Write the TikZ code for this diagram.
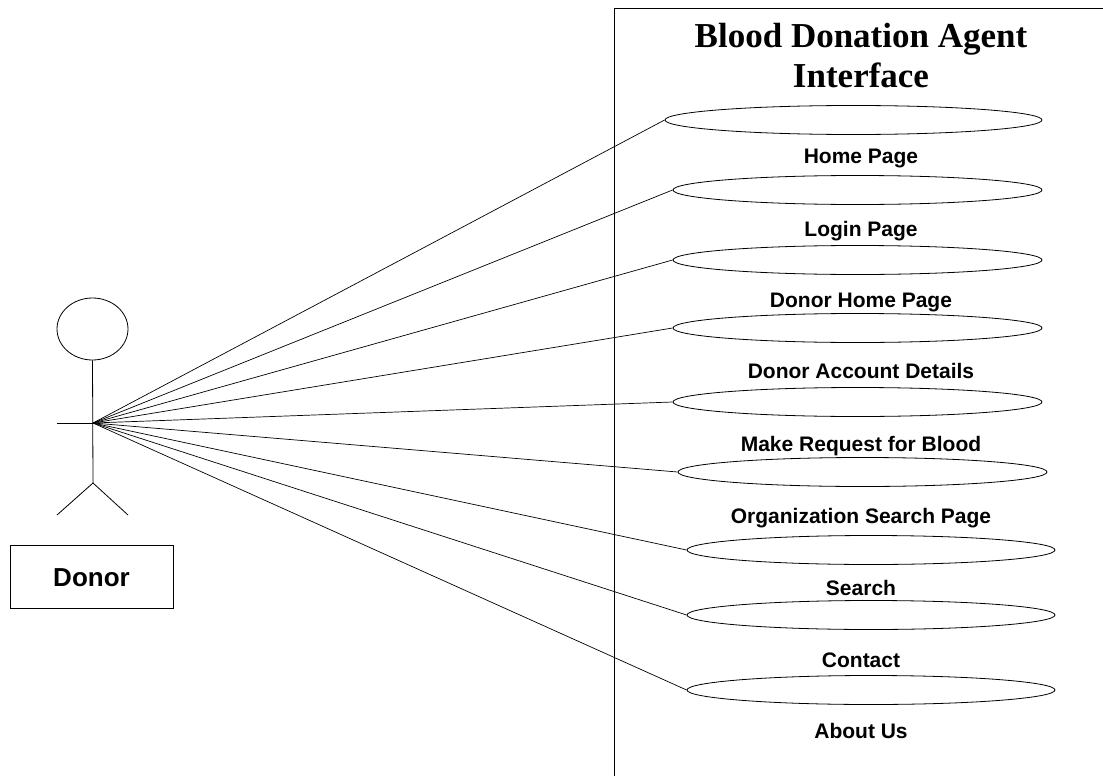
\documentclass[tikz,border=0pt]{standalone}
\usepackage{fontspec}
\setmainfont{Liberation Serif}
\newfontfamily\arialfont{Liberation Sans}
\usetikzlibrary{shapes.geometric}
\begin{document}
\begin{tikzpicture}[x=1pt,y=-1pt,
  usecase/.style={draw, ellipse, inner sep=0pt, line width=0.8pt, minimum width=369pt, minimum height=29pt},
  uclabel/.style={anchor=base, inner sep=0pt, font=\arialfont\bfseries\fontsize{21}{25}\selectfont},
  titletext/.style={anchor=base, inner sep=0pt, font=\bfseries\fontsize{35}{40}\selectfont},
  stick/.style={line width=0.8pt},
  assoc/.style={line width=0.7pt}]
\useasboundingbox (0,0) rectangle (1103,776);
% system boundary
\coordinate (fb) at (614,776);
\coordinate (ft) at (614,9);
\coordinate (fr) at (1103,9);
\draw[line width=1pt] (fb) -- (ft) -- (fr);
% title
\node[titletext] (t1) at (861,48) {Blood Donation Agent};
\node[titletext] (t2) at (861,88) {Interface};
% use cases
\node[usecase, minimum width=377pt] (e1) at (853.5,120) {};
\node[usecase] (e2) at (857.5,190) {};
\node[usecase] (e3) at (857.5,260) {};
\node[usecase] (e4) at (857.5,328) {};
\node[usecase] (e5) at (857.5,402) {};
\node[usecase] (e6) at (862.5,472) {};
\node[usecase, minimum width=368pt] (e7) at (871,550) {};
\node[usecase, minimum width=368pt] (e8) at (871,615) {};
\node[usecase, minimum width=368pt] (e9) at (871,690) {};
% labels
\node[uclabel] (l1) at (861,163) {Home Page};
\node[uclabel] (l2) at (861,236) {Login Page};
\node[uclabel] (l3) at (861,307) {Donor Home Page};
\node[uclabel] (l4) at (861,378) {Donor Account Details};
\node[uclabel] (l5) at (861,451) {Make Request for Blood};
\node[uclabel] (l6) at (861,523) {Organization Search Page};
\node[uclabel] (l7) at (861,595) {Search};
\node[uclabel] (l8) at (861,667) {Contact};
\node[uclabel] (l9) at (861,738) {About Us};
% actor
\node[draw, ellipse, stick, inner sep=0pt, minimum width=71pt, minimum height=62pt] (head) at (92.5,329) {};
\coordinate (hand) at (93,423);
\coordinate (larm) at (57,423);
\coordinate (hip) at (93,483);
\coordinate (lfoot) at (57,515);
\coordinate (rfoot) at (128,515);
\draw[stick] (head.south) -- (hip);
\draw[stick] (larm) -- (hand);
\draw[stick] (lfoot) -- (hip) -- (rfoot);
\node[draw, line width=0.9pt, minimum width=163pt, minimum height=63pt, inner sep=0pt] (donorbox) at (91.5,576.5) {};
\node[anchor=base, inner sep=0pt, font=\arialfont\bfseries\fontsize{26}{30}\selectfont] (donor) at (91.5,586) {Donor};
% associations
\foreach \e in {e1,e2,e3,e4,e5,e6,e7,e8,e9}
  \draw[assoc] (hand) -- (\e.west);
\end{tikzpicture}
\end{document}
